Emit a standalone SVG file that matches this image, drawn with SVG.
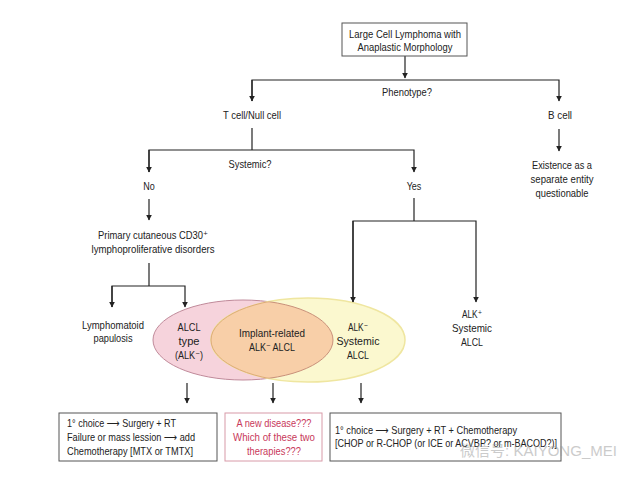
<svg xmlns="http://www.w3.org/2000/svg" width="640" height="480" viewBox="0 0 640 480">
<defs>
<style>
text{font-family:"Liberation Sans","DejaVu Sans",Arial,sans-serif;font-size:11px;fill:#222}
.c{text-anchor:middle}
.ln{fill:none;stroke:#222;stroke-width:1.2}
.box{fill:#fff;stroke:#555;stroke-width:1}
.red{fill:#c8385a}
</style>
<marker id="ah" viewBox="0 0 10 10" refX="9" refY="5" markerWidth="6" markerHeight="6" orient="auto" markerUnits="userSpaceOnUse">
<path d="M0,0 L10,5 L0,10 z" fill="#222"/>
</marker>
<clipPath id="pinkclip"><ellipse cx="243" cy="340" rx="90" ry="40"/></clipPath>
<clipPath id="yclip"><ellipse cx="308" cy="340" rx="97" ry="42"/></clipPath>
</defs>
<rect width="640" height="480" fill="#fff"/>

<g id="venn">
<ellipse cx="243" cy="340" rx="90" ry="40" fill="#f6d3dc" stroke="#c08a9a" stroke-width="1"/>
<ellipse cx="308" cy="340" rx="97" ry="42" fill="#fbf8cf" stroke="#efe6a0" stroke-width="1.5"/>
<ellipse cx="308" cy="340" rx="97" ry="42" fill="#f8cfa8" stroke="#deaa78" stroke-width="1" clip-path="url(#pinkclip)"/>
<ellipse cx="243" cy="340" rx="90" ry="40" fill="none" stroke="#c8907a" stroke-width="1" clip-path="url(#yclip)"/>
</g>

<g id="connectors">
<line class="ln" x1="405" y1="56" x2="405" y2="78" marker-end="url(#ah)"/>
<polyline class="ln" points="252,101 252,80 559,80 559,101" marker-end="url(#ah)"/>
<line class="ln" x1="252" y1="80" x2="252" y2="101" marker-end="url(#ah)"/>
<polyline class="ln" points="252,128 252,150"/>
<polyline class="ln" points="149,172 149,150 414,150 414,172" marker-end="url(#ah)"/>
<line class="ln" x1="149" y1="150" x2="149" y2="172" marker-end="url(#ah)"/>
<line class="ln" x1="149" y1="199" x2="149" y2="220" marker-end="url(#ah)"/>
<line class="ln" x1="559" y1="129" x2="559" y2="151" marker-end="url(#ah)"/>
<line class="ln" x1="149" y1="263" x2="149" y2="286"/>
<polyline class="ln" points="112,307 112,286 185,286 185,307" marker-end="url(#ah)"/>
<line class="ln" x1="112" y1="286" x2="112" y2="307" marker-end="url(#ah)"/>
<line class="ln" x1="414" y1="198" x2="414" y2="221"/>
<polyline class="ln" points="353,302 353,221 476,221 476,302" marker-end="url(#ah)"/>
<line class="ln" x1="353" y1="221" x2="353" y2="302" marker-end="url(#ah)"/>
<line class="ln" x1="187" y1="383" x2="187" y2="403" marker-end="url(#ah)"/>
<line class="ln" x1="273" y1="383" x2="273" y2="403" marker-end="url(#ah)"/>
<line class="ln" x1="361" y1="383" x2="361" y2="403" marker-end="url(#ah)"/>
</g>

<g id="n-root">
<rect class="box" x="342" y="23" width="125" height="33"/>
<text class="c" x="405" y="38" textLength="112" lengthAdjust="spacingAndGlyphs">Large Cell Lymphoma with</text>
<text class="c" x="405" y="51" textLength="95" lengthAdjust="spacingAndGlyphs">Anaplastic Morphology</text>
</g>
<g id="n-phenotype"><text class="c" x="407" y="96" textLength="50" lengthAdjust="spacingAndGlyphs">Phenotype?</text></g>
<g id="n-tcell"><text class="c" x="252" y="119" textLength="58" lengthAdjust="spacingAndGlyphs">T cell/Null cell</text></g>
<g id="n-bcell"><text class="c" x="560" y="119" textLength="24" lengthAdjust="spacingAndGlyphs">B cell</text></g>
<g id="n-systemic"><text class="c" x="250" y="168" textLength="43" lengthAdjust="spacingAndGlyphs">Systemic?</text></g>
<g id="n-no"><text class="c" transform="translate(149,190) scale(0.82,1)">No</text></g>
<g id="n-yes"><text class="c" transform="translate(414,190) scale(0.82,1)">Yes</text></g>
<g id="n-existence">
<text class="c" x="562" y="169" textLength="60" lengthAdjust="spacingAndGlyphs">Existence as a</text>
<text class="c" x="562" y="183" textLength="63" lengthAdjust="spacingAndGlyphs">separate entity</text>
<text class="c" x="562" y="197" textLength="53" lengthAdjust="spacingAndGlyphs">questionable</text>
</g>
<g id="n-primary">
<text class="c" x="153" y="239" textLength="110" lengthAdjust="spacingAndGlyphs">Primary cutaneous CD30⁺</text>
<text class="c" x="153" y="253" textLength="123" lengthAdjust="spacingAndGlyphs">lymphoproliferative disorders</text>
</g>
<g id="n-lyp">
<text class="c" x="113" y="329" textLength="62" lengthAdjust="spacingAndGlyphs">Lymphomatoid</text>
<text class="c" x="113" y="342" textLength="39" lengthAdjust="spacingAndGlyphs">papulosis</text>
</g>
<g id="n-alcltype">
<text class="c" x="189" y="331" textLength="23" lengthAdjust="spacingAndGlyphs">ALCL</text>
<text class="c" x="189" y="345" textLength="21" lengthAdjust="spacingAndGlyphs">type</text>
<text class="c" x="189" y="359" textLength="28" lengthAdjust="spacingAndGlyphs">(ALK⁻)</text>
</g>
<g id="n-implant">
<text class="c" x="272" y="337" textLength="66" lengthAdjust="spacingAndGlyphs">Implant-related</text>
<text class="c" x="272" y="351" textLength="46" lengthAdjust="spacingAndGlyphs">ALK⁻ ALCL</text>
</g>
<g id="n-alkneg">
<text class="c" x="358" y="331" textLength="20" lengthAdjust="spacingAndGlyphs">ALK⁻</text>
<text class="c" x="358" y="345" textLength="43" lengthAdjust="spacingAndGlyphs">Systemic</text>
<text class="c" x="358" y="359" textLength="22" lengthAdjust="spacingAndGlyphs">ALCL</text>
</g>
<g id="n-alkpos">
<text class="c" x="472" y="318" textLength="20" lengthAdjust="spacingAndGlyphs">ALK⁺</text>
<text class="c" x="472" y="332" textLength="40" lengthAdjust="spacingAndGlyphs">Systemic</text>
<text class="c" x="472" y="346" textLength="22" lengthAdjust="spacingAndGlyphs">ALCL</text>
</g>
<g id="n-box1">
<rect class="box" x="59" y="413" width="158" height="48"/>
<text x="67" y="427" textLength="109" lengthAdjust="spacingAndGlyphs">1° choice ⟶ Surgery + RT</text>
<text x="67" y="441" textLength="128" lengthAdjust="spacingAndGlyphs">Failure or mass lession ⟶ add</text>
<text x="67" y="455" textLength="126" lengthAdjust="spacingAndGlyphs">Chemotherapy [MTX or TMTX]</text>
</g>
<g id="n-box2">
<rect x="225" y="413" width="97" height="48" fill="#fff" stroke="#d89aa8" stroke-width="1"/>
<text class="c red" x="274" y="427" textLength="75" lengthAdjust="spacingAndGlyphs">A new disease???</text>
<text class="c red" x="274" y="441" textLength="82" lengthAdjust="spacingAndGlyphs">Which of these two</text>
<text class="c red" x="274" y="455" textLength="54" lengthAdjust="spacingAndGlyphs">therapies???</text>
</g>
<g id="n-box3">
<rect class="box" x="330" y="413" width="231" height="48"/>
<text x="335" y="434" textLength="182" lengthAdjust="spacingAndGlyphs">1° choice ⟶ Surgery + RT + Chemotherapy</text>
<text x="335" y="447" textLength="222" lengthAdjust="spacingAndGlyphs">[CHOP or R-CHOP (or ICE or ACVBP? or m-BACOD?)]</text>
</g>
<g id="watermark" opacity="0.5">
<text x="460" y="456" textLength="157" lengthAdjust="spacingAndGlyphs" style="font-family:'Liberation Sans','Noto Sans CJK SC',sans-serif;font-size:15px;fill:#999">微信号: KAIYONG_MEI</text>
</g>
</svg>
